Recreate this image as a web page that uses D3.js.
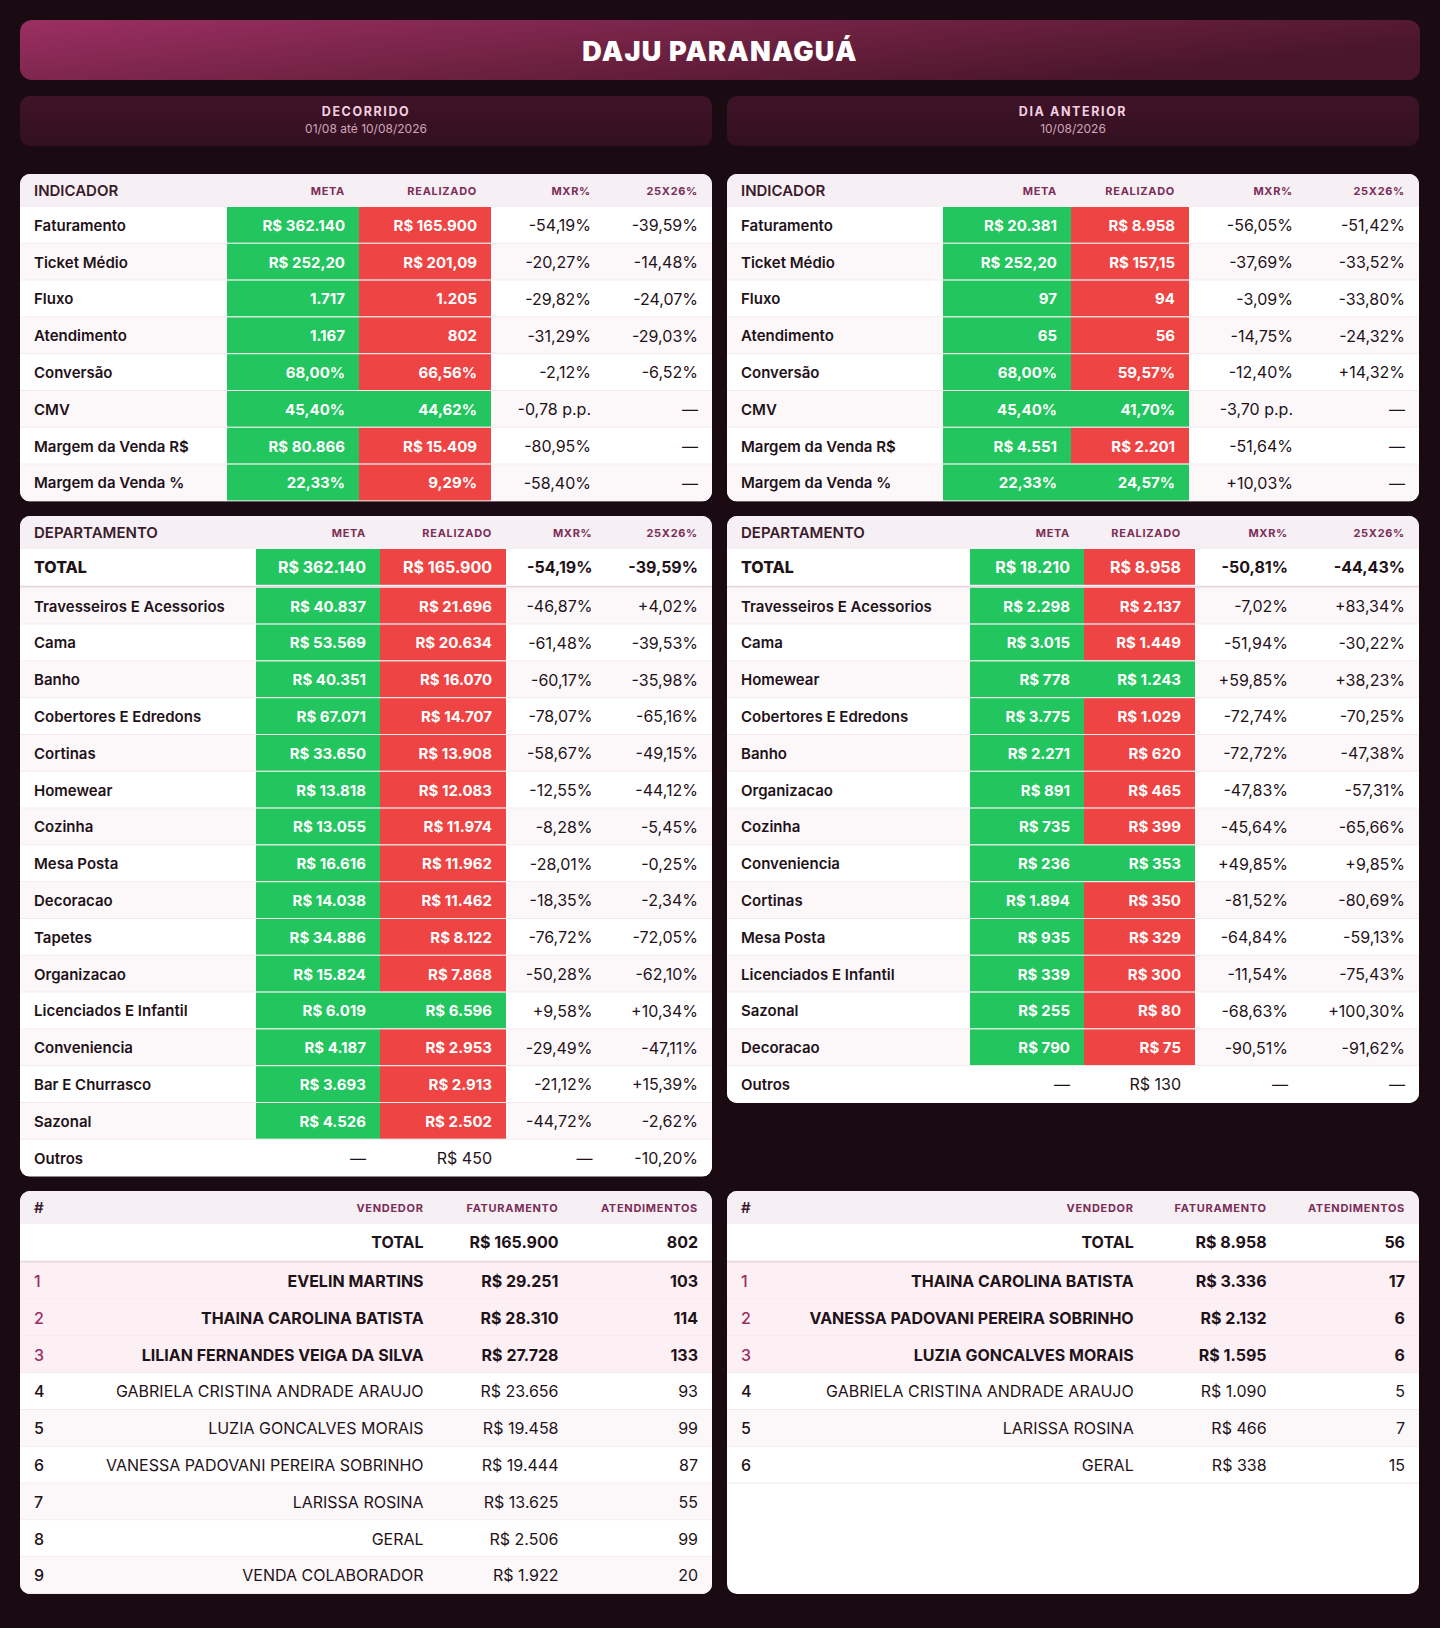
<!DOCTYPE html>
<html>
<head>
<meta charset="utf-8">
<script src="https://cdn.jsdelivr.net/npm/d3@7"></script>
<style>
  body { margin: 0; background: #1a0b12; }
  svg { display: block; }
</style>
</head>
<body>
<div id="painel"></div>
<script>
  // ---- dados: indicadores ----
  var indicadores = ["Faturamento", "Ticket Médio", "Fluxo", "Atendimento", "Conversão", "CMV", "Margem da Venda R$", "Margem da Venda %"];
  var indTipo = ["money0", "money2", "int", "int", "pct", "pct", "money0", "pct"];
  var indMenorMelhor = [false, false, false, false, false, true, false, false];

  var decMeta = [362140, 252.20, 1717, 1167, 68.00, 45.40, 80866, 22.33];
  var decReal = [165900, 201.09, 1205, 802, 66.56, 44.62, 15409, 9.29];
  var decMxr = ["-54,19%", "-20,27%", "-29,82%", "-31,29%", "-2,12%", "-0,78 p.p.", "-80,95%", "-58,40%"];
  var decYoy = ["-39,59%", "-14,48%", "-24,07%", "-29,03%", "-6,52%", "—", "—", "—"];

  var diaMeta = [20381, 252.20, 97, 65, 68.00, 45.40, 4551, 22.33];
  var diaReal = [8958, 157.15, 94, 56, 59.57, 41.70, 2201, 24.57];
  var diaMxr = ["-56,05%", "-37,69%", "-3,09%", "-14,75%", "-12,40%", "-3,70 p.p.", "-51,64%", "+10,03%"];
  var diaYoy = ["-51,42%", "-33,52%", "-33,80%", "-24,32%", "+14,32%", "—", "—", "—"];

  // ---- dados: departamentos (primeira linha = TOTAL) ----
  var depDecNomes = ["TOTAL", "Travesseiros E Acessorios", "Cama", "Banho", "Cobertores E Edredons", "Cortinas", "Homewear", "Cozinha", "Mesa Posta", "Decoracao", "Tapetes", "Organizacao", "Licenciados E Infantil", "Conveniencia", "Bar E Churrasco", "Sazonal", "Outros"];
  var depDecMeta = [362140, 40837, 53569, 40351, 67071, 33650, 13818, 13055, 16616, 14038, 34886, 15824, 6019, 4187, 3693, 4526, null];
  var depDecReal = [165900, 21696, 20634, 16070, 14707, 13908, 12083, 11974, 11962, 11462, 8122, 7868, 6596, 2953, 2913, 2502, 450];
  var depDecMxr = ["-54,19%", "-46,87%", "-61,48%", "-60,17%", "-78,07%", "-58,67%", "-12,55%", "-8,28%", "-28,01%", "-18,35%", "-76,72%", "-50,28%", "+9,58%", "-29,49%", "-21,12%", "-44,72%", "—"];
  var depDecYoy = ["-39,59%", "+4,02%", "-39,53%", "-35,98%", "-65,16%", "-49,15%", "-44,12%", "-5,45%", "-0,25%", "-2,34%", "-72,05%", "-62,10%", "+10,34%", "-47,11%", "+15,39%", "-2,62%", "-10,20%"];

  var depDiaNomes = ["TOTAL", "Travesseiros E Acessorios", "Cama", "Homewear", "Cobertores E Edredons", "Banho", "Organizacao", "Cozinha", "Conveniencia", "Cortinas", "Mesa Posta", "Licenciados E Infantil", "Sazonal", "Decoracao", "Outros"];
  var depDiaMeta = [18210, 2298, 3015, 778, 3775, 2271, 891, 735, 236, 1894, 935, 339, 255, 790, null];
  var depDiaReal = [8958, 2137, 1449, 1243, 1029, 620, 465, 399, 353, 350, 329, 300, 80, 75, 130];
  var depDiaMxr = ["-50,81%", "-7,02%", "-51,94%", "+59,85%", "-72,74%", "-72,72%", "-47,83%", "-45,64%", "+49,85%", "-81,52%", "-64,84%", "-11,54%", "-68,63%", "-90,51%", "—"];
  var depDiaYoy = ["-44,43%", "+83,34%", "-30,22%", "+38,23%", "-70,25%", "-47,38%", "-57,31%", "-65,66%", "+9,85%", "-80,69%", "-59,13%", "-75,43%", "+100,30%", "-91,62%", "—"];

  // ---- dados: vendedores (primeira linha = TOTAL) ----
  var vendDecNomes = ["TOTAL", "EVELIN MARTINS", "THAINA CAROLINA BATISTA", "LILIAN FERNANDES VEIGA DA SILVA", "GABRIELA CRISTINA ANDRADE ARAUJO", "LUZIA GONCALVES MORAIS", "VANESSA PADOVANI PEREIRA SOBRINHO", "LARISSA ROSINA", "GERAL", "VENDA COLABORADOR"];
  var vendDecFat = [165900, 29251, 28310, 27728, 23656, 19458, 19444, 13625, 2506, 1922];
  var vendDecAtend = [802, 103, 114, 133, 93, 99, 87, 55, 99, 20];

  var vendDiaNomes = ["TOTAL", "THAINA CAROLINA BATISTA", "VANESSA PADOVANI PEREIRA SOBRINHO", "LUZIA GONCALVES MORAIS", "GABRIELA CRISTINA ANDRADE ARAUJO", "LARISSA ROSINA", "GERAL"];
  var vendDiaFat = [8958, 3336, 2132, 1595, 1090, 466, 338];
  var vendDiaAtend = [56, 17, 6, 6, 5, 7, 15];

  var titulo = "DAJU PARANAGUÁ";
  var periodos = [["DECORRIDO", "01/08 até 10/08/2026"], ["DIA ANTERIOR", "10/08/2026"]];

  // ---- formatos pt-BR ----
  var loc = d3.formatLocale({ decimal: ",", thousands: ".", grouping: [3], currency: ["R$ ", ""] });
  var fmt = {
    money0: loc.format("$,.0f"),
    money2: loc.format("$,.2f"),
    int: loc.format(",.0f"),
    pct: function (v) { return loc.format(",.2f")(v) + "%"; }
  };

  // ---- layout ----
  var W = 1440, H = 1628;
  var HEAD = 33, ROW = 36.8;
  var VERDE = "#22c55e", VERMELHO = "#ef4444";
  var TXT = "#1f1219", ROXO = "#7b2d58";
  var FONT = "Inter, 'Noto Sans', sans-serif";
  var colL = 20, colR = 727, colW = 692;

  var svg = d3.select("#painel").append("svg")
    .attr("width", W).attr("height", H)
    .style("font-family", FONT);

  var defs = svg.append("defs");
  var gt = defs.append("linearGradient").attr("id", "gTitulo")
    .attr("x1", 0).attr("y1", 0).attr("x2", 1).attr("y2", 0.4);
  gt.append("stop").attr("offset", 0).attr("stop-color", "#9c2f62");
  gt.append("stop").attr("offset", 1).attr("stop-color", "#4a1629");
  var gp = defs.append("linearGradient").attr("id", "gPeriodo")
    .attr("x1", 0).attr("y1", 0).attr("x2", 0).attr("y2", 1);
  gp.append("stop").attr("offset", 0).attr("stop-color", "#3f1328");
  gp.append("stop").attr("offset", 1).attr("stop-color", "#33101f");

  svg.append("rect").attr("width", W).attr("height", H).attr("fill", "#1a0b12");

  // titulo
  svg.append("rect").attr("x", 20).attr("y", 20).attr("width", 1400).attr("height", 60)
    .attr("rx", 12).attr("fill", "url(#gTitulo)");
  svg.append("text").attr("x", W / 2).attr("y", 61).attr("text-anchor", "middle")
    .attr("fill", "#fff").attr("font-size", 27).attr("font-weight", 900)
    .attr("letter-spacing", 1.2).text(titulo);

  // periodos
  var per = svg.selectAll("g.periodo").data(periodos).join("g")
    .attr("transform", function (d, i) { return "translate(" + (i ? colR : colL) + ",96)"; });
  per.append("rect").attr("width", colW).attr("height", 50).attr("rx", 10).attr("fill", "url(#gPeriodo)");
  per.append("text").attr("x", colW / 2).attr("y", 19.5).attr("text-anchor", "middle")
    .attr("fill", "#f3cfe0").attr("font-size", 12.5).attr("font-weight", 700)
    .attr("letter-spacing", 1.6).text(function (d) { return d[0]; });
  per.append("text").attr("x", colW / 2).attr("y", 37).attr("text-anchor", "middle")
    .attr("fill", "#cfa6ba").attr("font-size", 12).attr("font-weight", 400)
    .text(function (d) { return d[1]; });

  var clipN = 0;
  function tabela(o) {
    var n = o.rows.length;
    var extra = o.total ? 2 : 0;
    var yRow = d3.scaleLinear().domain([0, n]).range([o.y + HEAD, o.y + HEAD + n * ROW]);
    var top = function (i) { return yRow(i) + (o.total && i > 0 ? extra : 0); };
    var h = o.h || (HEAD + n * ROW + extra);
    var id = "clip" + (clipN++);
    svg.append("clipPath").attr("id", id).append("rect")
      .attr("x", o.x).attr("y", o.y).attr("width", colW).attr("height", h).attr("rx", 10);
    var g = svg.append("g").attr("clip-path", "url(#" + id + ")");
    g.append("rect").attr("x", o.x).attr("y", o.y).attr("width", colW).attr("height", h).attr("fill", "#fff");
    g.append("rect").attr("x", o.x).attr("y", o.y).attr("width", colW).attr("height", HEAD).attr("fill", "#f6eff3");

    g.selectAll("text.cab").data(o.head).join("text")
      .attr("class", "cab")
      .attr("x", function (d) { return o.x + d.x; })
      .attr("y", function (d) { return o.y + HEAD / 2 + (d.big ? 5.3 : 4); })
      .attr("text-anchor", function (d) { return d.a; })
      .attr("font-size", function (d) { return d.big ? 15 : 11; })
      .attr("font-weight", function (d) { return d.big ? 600 : 700; })
      .attr("letter-spacing", function (d) { return d.big ? 0 : 0.7; })
      .attr("fill", function (d) { return d.big ? "#3a1a2c" : ROXO; })
      .text(function (d) { return d.t; });

    var linhas = g.selectAll("g.linha").data(o.rows).join("g").attr("class", "linha");
    linhas.append("rect")
      .attr("x", o.x).attr("width", colW)
      .attr("y", function (d, i) { return top(i); })
      .attr("height", ROW)
      .attr("fill", function (d, i) {
        if (o.rank && i >= 1 && i <= 3) return "#fcf0f5";
        return i % 2 === 1 ? "#fcf8fa" : "#fff";
      });
    linhas.each(function (cells, i) {
      var l = d3.select(this);
      var yt = top(i);
      l.selectAll("rect.cel").data(cells.filter(function (c) { return c.bg; })).join("rect")
        .attr("class", "cel")
        .attr("x", function (c) { return o.x + c.bg[0]; })
        .attr("width", function (c) { return c.bg[1] - c.bg[0]; })
        .attr("y", yt).attr("height", ROW - 1)
        .attr("fill", function (c) { return c.bg[2]; });
      l.selectAll("text").data(cells).join("text")
        .attr("x", function (c) { return o.x + c.x; })
        .attr("y", function (c) { return yt + ROW / 2 + (c.s === 16 ? 5.8 : 5.4); })
        .attr("text-anchor", function (c) { return c.a; })
        .attr("font-size", function (c) { return c.s || 15; })
        .attr("font-weight", function (c) { return c.w; })
        .attr("fill", function (c) { return c.c || TXT; })
        .text(function (c) { return c.t; });
      if (i < n - 1 || o.h) {
        var tot = o.total && i === 0;
        l.append("line")
          .attr("x1", o.x).attr("x2", o.x + colW)
          .attr("y1", yt + ROW + (tot ? 1 : -0.5)).attr("y2", yt + ROW + (tot ? 1 : -0.5))
          .attr("stroke", tot ? "#ead8e1" : "#f2e8ed").attr("stroke-width", tot ? 2 : 1);
      }
    });
    return h;
  }

  function cabTabela(nome, c) {
    return [
      { t: nome, x: 14, a: "start", big: true },
      { t: "META", x: c.meta[1] - 14, a: "end" },
      { t: "REALIZADO", x: c.real[1] - 14, a: "end" },
      { t: "MXR%", x: c.mxr, a: "end" },
      { t: "25X26%", x: c.yoy, a: "end" }
    ];
  }

  function linhasIndicador(meta, real, mxr, yoy, c) {
    return indicadores.map(function (nome, i) {
      var f = fmt[indTipo[i]];
      var ok = indMenorMelhor[i] ? real[i] <= meta[i] : real[i] >= meta[i];
      return [
        { t: nome, x: 14, a: "start", w: 600 },
        { t: f(meta[i]), x: c.meta[1] - 14, a: "end", w: 700, c: "#fff", bg: [c.meta[0], c.meta[1], VERDE] },
        { t: f(real[i]), x: c.real[1] - 14, a: "end", w: 700, c: "#fff", bg: [c.real[0], c.real[1], ok ? VERDE : VERMELHO] },
        { t: mxr[i], x: c.mxr, a: "end", w: 400, s: 16 },
        { t: yoy[i], x: c.yoy, a: "end", w: 400, s: 16 }
      ];
    });
  }

  function linhasDepto(nomes, meta, real, mxr, yoy, c) {
    return nomes.map(function (nome, i) {
      var tot = i === 0;
      var b = tot ? 700 : 400;
      var sz = tot ? 16 : 15;
      var temMeta = meta[i] != null;
      var ok = temMeta && real[i] >= meta[i];
      return [
        { t: nome, x: 14, a: "start", w: tot ? 800 : 600, s: sz },
        temMeta
          ? { t: fmt.money0(meta[i]), x: c.meta[1] - 14, a: "end", w: 700, c: "#fff", s: sz, bg: [c.meta[0], c.meta[1], VERDE] }
          : { t: "—", x: c.meta[1] - 14, a: "end", w: 400, s: 16 },
        temMeta
          ? { t: fmt.money0(real[i]), x: c.real[1] - 14, a: "end", w: 700, c: "#fff", s: sz, bg: [c.real[0], c.real[1], ok ? VERDE : VERMELHO] }
          : { t: fmt.money0(real[i]), x: c.real[1] - 14, a: "end", w: 400, s: 16 },
        { t: mxr[i], x: c.mxr, a: "end", w: b, s: 16 },
        { t: yoy[i], x: c.yoy, a: "end", w: b, s: 16 }
      ];
    });
  }

  function linhasVend(nomes, fat, atend, c) {
    return nomes.map(function (nome, i) {
      var b = i <= 3 ? 700 : 400;
      return [
        { t: i === 0 ? "" : String(i), x: 14, a: "start", w: 500, s: 16, c: i >= 1 && i <= 3 ? "#9b2d5f" : TXT },
        { t: nome, x: c.vend, a: "end", w: b, s: 16 },
        { t: fmt.money0(fat[i]), x: c.fat, a: "end", w: b, s: 16 },
        { t: fmt.int(atend[i]), x: c.atend, a: "end", w: b, s: 16 }
      ];
    });
  }

  // colunas (deslocamento dentro do cartao)
  var cIndDec = { meta: [207, 339], real: [339, 471], mxr: 571, yoy: 678 };
  var cIndDia = { meta: [216, 344], real: [344, 462], mxr: 566, yoy: 678 };
  var cDepDec = { meta: [236, 360], real: [360, 486], mxr: 572.5, yoy: 678 };
  var cDepDia = { meta: [243, 357], real: [357, 468], mxr: 561, yoy: 678 };
  var cVenDec = { vend: 403.6, fat: 538.5, atend: 678 };
  var cVenDia = { vend: 406.7, fat: 539.6, atend: 678 };

  var y1 = 174;
  var hInd = tabela({ x: colL, y: y1, head: cabTabela("INDICADOR", cIndDec), rows: linhasIndicador(decMeta, decReal, decMxr, decYoy, cIndDec) });
  tabela({ x: colR, y: y1, head: cabTabela("INDICADOR", cIndDia), rows: linhasIndicador(diaMeta, diaReal, diaMxr, diaYoy, cIndDia) });

  var y2 = y1 + hInd + 14.6;
  var hD1 = tabela({ x: colL, y: y2, total: true, head: cabTabela("DEPARTAMENTO", cDepDec), rows: linhasDepto(depDecNomes, depDecMeta, depDecReal, depDecMxr, depDecYoy, cDepDec) });
  var hD2 = tabela({ x: colR, y: y2, total: true, head: cabTabela("DEPARTAMENTO", cDepDia), rows: linhasDepto(depDiaNomes, depDiaMeta, depDiaReal, depDiaMxr, depDiaYoy, cDepDia) });

  var y3 = y2 + Math.max(hD1, hD2) + 14.4;
  function cabVend(c) {
    return [
      { t: "#", x: 14, a: "start", big: true },
      { t: "VENDEDOR", x: c.vend, a: "end" },
      { t: "FATURAMENTO", x: c.fat, a: "end" },
      { t: "ATENDIMENTOS", x: c.atend, a: "end" }
    ];
  }
  var hV = HEAD + Math.max(vendDecNomes.length, vendDiaNomes.length) * ROW + 2;
  tabela({ x: colL, y: y3, total: true, rank: true, h: hV, head: cabVend(cVenDec), rows: linhasVend(vendDecNomes, vendDecFat, vendDecAtend, cVenDec) });
  tabela({ x: colR, y: y3, total: true, rank: true, h: hV, head: cabVend(cVenDia), rows: linhasVend(vendDiaNomes, vendDiaFat, vendDiaAtend, cVenDia) });
</script>
</body>
</html>
